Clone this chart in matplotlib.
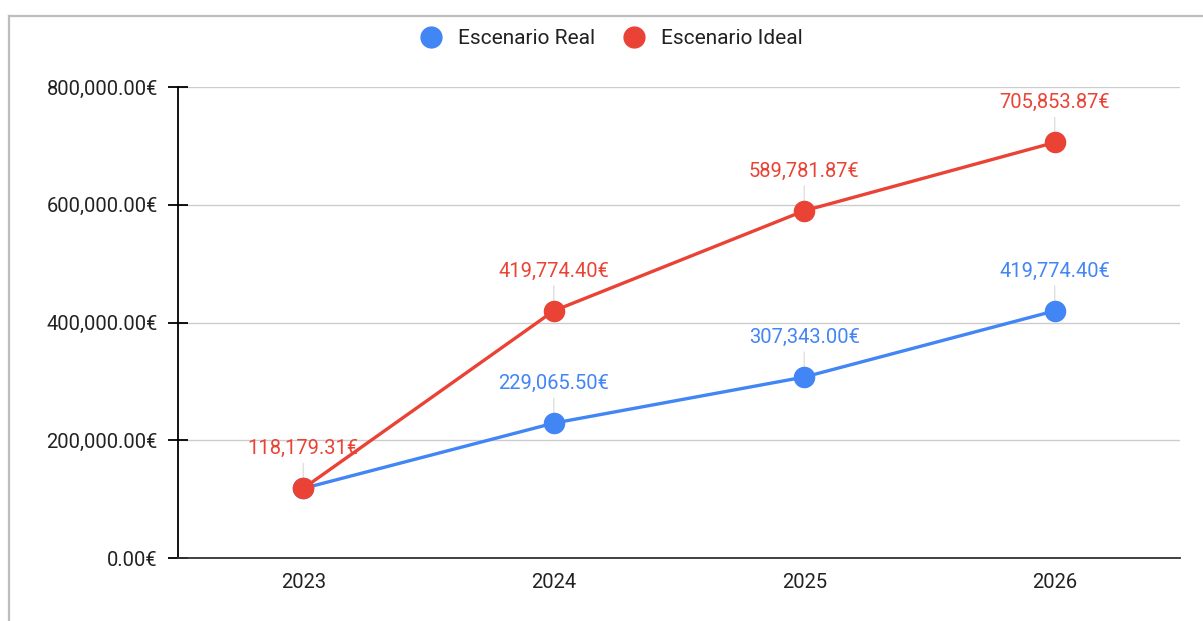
import matplotlib
matplotlib.use("Agg")
import matplotlib.pyplot as plt
from matplotlib.lines import Line2D
from matplotlib.ticker import FuncFormatter

years = ["2023", "2024", "2025", "2026"]
real = [118179.31, 229065.50, 307343.00, 419774.40]
ideal = [118179.31, 419774.40, 589781.87, 705853.87]
real_labels = [None, "229,065.50€", "307,343.00€", "419,774.40€"]
ideal_labels = ["118,179.31€", "419,774.40€", "589,781.87€", "705,853.87€"]
yticks = [0, 200000, 400000, 600000, 800000]

BLUE = "#4285F4"
RED = "#EA4335"

plt.rcParams['font.family'] = ['Roboto', 'DejaVu Sans']

fig = plt.figure(figsize=(12.03, 6.21), dpi=100)
ax = fig.add_axes([178/1203, 1-558/621, (1180-178)/1203, (558-87)/621])

x = list(range(len(years)))
ax.plot(x, real, color=BLUE, lw=2.4, marker="o", ms=14.5, label="Escenario Real", zorder=3)
ax.plot(x, ideal, color=RED, lw=2.4, marker="o", ms=14.5, label="Escenario Ideal", zorder=4)

def label(xi, yi, txt, color):
    ax.annotate(txt, (xi, yi), xytext=(0, 28.5), textcoords="offset points",
                ha="center", va="center", color=color, fontsize=14.5, zorder=5)
    ax.annotate("", (xi, yi), xytext=(0, 18), textcoords="offset points",
                arrowprops=dict(arrowstyle="-", color="#e0e0e0", lw=1,
                                shrinkA=0, shrinkB=7), zorder=2)

for xi, yi, t in zip(x, real, real_labels):
    if t:
        label(xi, yi, t, BLUE)
for xi, yi, t in zip(x, ideal, ideal_labels):
    label(xi, yi, t, RED)

ax.set_xlim(-0.5, 3.5)
ax.set_ylim(0, 800000)
ax.set_xticks(x)
ax.set_xticklabels(years)
ax.set_yticks(yticks)
ax.yaxis.set_major_formatter(FuncFormatter(lambda v, p: f"{v:,.2f}€"))
ax.tick_params(axis="x", length=0, pad=11, labelsize=14.5, colors="#222222")
ax.tick_params(axis="y", direction="inout", length=15, width=1.3, pad=7, labelsize=14.5, labelcolor="#222222")
ax.grid(axis="y", color="#cccccc", lw=1)
ax.set_axisbelow(True)
for s in ["top", "right"]:
    ax.spines[s].set_visible(False)
ax.spines["left"].set_linewidth(1.3)
ax.spines["bottom"].set_linewidth(1.3)
ax.spines["bottom"].set_color("#333333")

leg = fig.legend(loc="center", bbox_to_anchor=(612/1203, 1-39/621), ncol=2, frameon=False,
                 fontsize=15, handlelength=1.0, handletextpad=0.8, columnspacing=1.35)
for h in leg.legend_handles:
    h.set_linestyle("")
    h.set_markersize(15)
for t in leg.get_texts():
    t.set_color("#222222")

fig.add_artist(Line2D([9/1203, 9/1203], [0, 1-16/621], color="#bdbdbd", lw=1.6, transform=fig.transFigure))
fig.add_artist(Line2D([9/1203, 1], [1-16/621, 1-16/621], color="#bdbdbd", lw=1.6, transform=fig.transFigure))

fig.savefig("out.png", dpi=100)
